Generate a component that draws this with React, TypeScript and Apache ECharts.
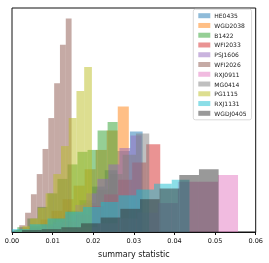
import React, { useEffect, useRef } from "react";
import * as echarts from "echarts";

// Series names in plotting order
const seriesNames = [
  "HE0435", "WGD2038", "B1422", "WFI2033", "PSJ1606", "WFI2026",
  "RXJ0911", "MG0414", "PG1115", "RXJ1131", "WGDJ0405",
];

// Histogram bins: first edge, bin width, and counts
const binStart = [0.00106, 0.00156, 0.00131, 0.0019, 0.00469, 0.00037, 0.00625, 0.00099, 0.00067, 0.0, 0.00247];
const binWidth = [0.00311, 0.00272, 0.00247, 0.00346, 0.00272, 0.00143, 0.00494, 0.00328, 0.0019, 0.00437, 0.00484];

const countsHE0435 = [2, 4, 8, 14, 22, 33, 47, 64, 84, 104];
const countsWGD2038 = [2, 6, 13, 22, 34, 48, 65, 85, 105, 130];
const countsB1422 = [5, 14, 26, 40, 55, 70, 83, 85, 105, 114];
const countsWFI2033 = [1, 3, 6, 11, 18, 27, 39, 54, 72, 91];
const countsPSJ1606 = [2, 5, 10, 18, 28, 40, 55, 70, 87, 100];
const countsWFI2026 = [2, 7, 20, 39, 60, 86, 118, 154, 194, 221];
const countsRXJ0911 = [1, 3, 5, 9, 14, 20, 30, 52, 52, 59];
const countsMG0414 = [2, 4, 8, 13, 20, 30, 44, 60, 80, 102];
const countsPG1115 = [2, 6, 14, 25, 40, 60, 89, 118, 146, 171];
const countsRXJ1131 = [3, 8, 14, 21, 26, 31, 38, 44, 50, 54];
const countsWGDJ0405 = [2, 3, 5, 9, 15, 24, 34, 45, 59, 65];

const allCounts = [
  countsHE0435, countsWGD2038, countsB1422, countsWFI2033, countsPSJ1606,
  countsWFI2026, countsRXJ0911, countsMG0414, countsPG1115, countsRXJ1131, countsWGDJ0405,
];

const colors = [
  "rgba(31,119,180,0.5)", "rgba(255,127,14,0.5)", "rgba(44,160,44,0.5)",
  "rgba(214,39,40,0.5)", "rgba(148,103,189,0.5)", "rgba(140,86,75,0.5)",
  "rgba(227,119,194,0.5)", "rgba(127,127,127,0.5)", "rgba(188,189,34,0.5)",
  "rgba(23,190,207,0.5)", "rgba(51,51,51,0.5)",
];

const xTicks = [0, 0.01, 0.02, 0.03, 0.04, 0.05, 0.06];

export default function App() {
  const ref = useRef<HTMLDivElement>(null);
  useEffect(() => {
    if (!ref.current) return;
    const chart = echarts.init(ref.current, null, { renderer: "svg" });
    const series = seriesNames.map((name, si) => {
      const data = allCounts[si].map((c, i) => [
        binStart[si] + i * binWidth[si],
        binStart[si] + (i + 1) * binWidth[si],
        c,
      ]);
      const color = colors[si];
      return {
        type: "custom",
        name,
        data,
        encode: { x: [0, 1], y: 2 },
        itemStyle: { color },
        renderItem: (params: any, api: any) => {
          const p0 = api.coord([api.value(0), api.value(2)]);
          const p1 = api.coord([api.value(1), 0]);
          return {
            type: "rect",
            shape: { x: p0[0], y: p0[1], width: p1[0] - p0[0], height: p1[1] - p0[1] },
            style: { fill: color, stroke: null },
          };
        },
      };
    });
    chart.setOption({
      animation: false,
      textStyle: { fontFamily: "DejaVu Sans" },
      grid: {
        left: 12, top: 8, right: 13.3, bottom: 22,
        show: true, borderColor: "#111", borderWidth: 1,
      },
      legend: {
        orient: "vertical",
        left: 193.3,
        top: 9.2,
        padding: [3, 5, 3, 5],
        itemWidth: 12,
        itemHeight: 5,
        itemGap: 2.76,
        icon: "rect",
        borderColor: "#d0d0d0",
        borderWidth: 0.8,
        borderRadius: 2,
        backgroundColor: "rgba(255,255,255,0.8)",
        textStyle: { fontSize: 6, lineHeight: 7, color: "#222", padding: [0, 0, 0, -1] },
        data: seriesNames.map((n, i) => ({ name: n, itemStyle: { color: colors[i] } })),
      },
      xAxis: {
        type: "value",
        min: xTicks[0],
        max: xTicks[xTicks.length - 1],
        interval: 0.01,
        name: "summary statistic",
        nameLocation: "middle",
        nameGap: 18,
        nameTextStyle: { fontSize: 8, color: "#111" },
        axisLine: { show: true, lineStyle: { color: "#111", width: 1 } },
        axisTick: { show: true, length: 3, lineStyle: { color: "#111" } },
        axisLabel: { fontSize: 6.5, color: "#111", margin: 5, formatter: (v: number) => v.toFixed(2) },
        splitLine: { show: false },
      },
      yAxis: {
        type: "value",
        min: 0,
        max: 232,
        show: false,
        splitLine: { show: false },
      },
      series,
    });
    return () => chart.dispose();
  }, []);
  return (
    <div
      ref={ref}
      style={{ position: "fixed", left: 0, top: 0, width: 269, height: 263 }}
    />
  );
}
